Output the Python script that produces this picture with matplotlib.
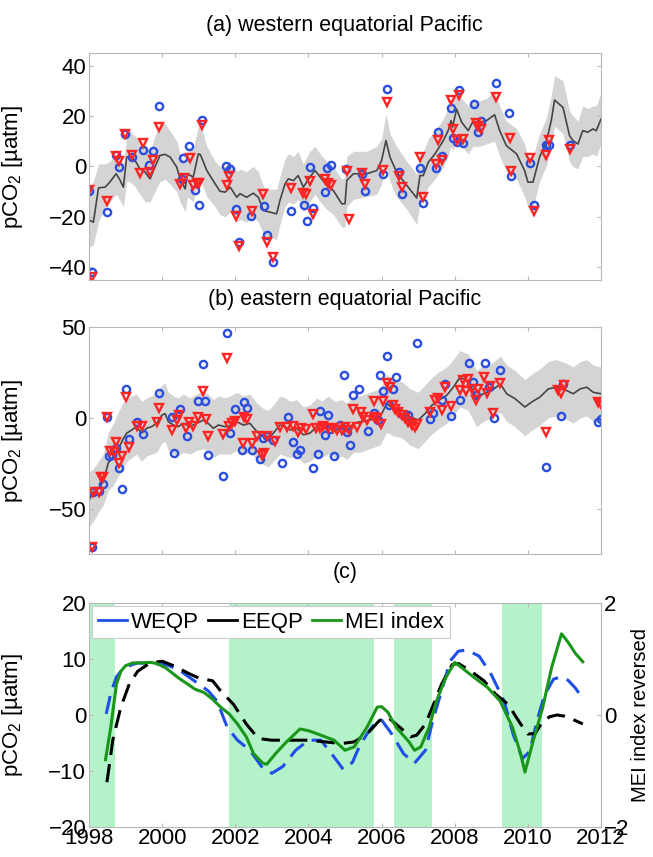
import matplotlib
matplotlib.use("Agg")
import matplotlib.pyplot as plt
from matplotlib.lines import Line2D
import numpy as np

plt.rcParams['font.family'] = ['Liberation Sans', 'DejaVu Sans']
plt.rcParams['mathtext.default'] = 'regular'

# ---------------- panel (a) western equatorial Pacific ----------------
a_blue_t = [1998.0, 1998.07, 1998.48, 1998.74, 1998.83, 1998.98, 1999.17, 1999.49, 1999.65, 1999.76,
            1999.91, 2000.53, 2000.56, 2000.74, 2000.9, 2001.0, 2001.1, 2001.74, 2001.86, 2002.01,
            2002.1, 2002.44, 2002.78, 2002.87, 2003.02, 2003.52, 2003.88, 2003.95, 2004.03, 2004.13,
            2004.45, 2004.51, 2004.62, 2005.03, 2005.46, 2005.55, 2006.05, 2006.14, 2006.47, 2006.55,
            2007.05, 2007.14, 2007.48, 2007.55, 2007.64, 2007.9, 2007.96, 2008.05, 2008.12, 2008.22,
            2008.54, 2008.64, 2008.72, 2009.13, 2009.48, 2009.55, 2010.07, 2010.16, 2010.49, 2010.58,
            2011.16]
a_blue_v = [-9.8, -42, -18.1, 4.4, -0.3, 12.7, 3.7, 6.4, 0.4, 6.1,
            23.8, -4.9, 3.3, 8.1, -9.3, -15.1, 18.5, 0.3, -0.9, -16.8,
            -30.1, -19.6, -15.5, -27.3, -38, -17.7, -15.1, -21.5, -0.3, -16.3,
            -10.2, -0.5, 0.7, -0.9, -2.9, -9.7, -2.9, 30.7, -2.2, -10.8,
            -0.5, -14.5, -0.5, 13.6, 4.3, 23.2, 11.3, 9.6, 30.3, 9.2,
            24.7, 13.6, 18.2, 32.9, 21.1, -3.9, 1.3, -15.3, 8.7, 8.7,
            8.7]
a_red_t = [1998.0, 1998.07, 1998.5, 1998.74, 1998.83, 1998.98, 1999.17, 1999.39, 1999.49, 1999.67,
           1999.76, 1999.91, 2000.49, 2000.6, 2000.76, 2000.85, 2000.94, 2001.0, 2001.1, 2001.77,
           2001.84, 2002.01, 2002.1, 2002.45, 2002.77, 2002.86, 2003.02, 2003.52, 2003.86, 2003.93,
           2004.03, 2004.12, 2004.44, 2004.54, 2004.61, 2005.05, 2005.12, 2005.46, 2005.55, 2006.05,
           2006.14, 2006.47, 2006.55, 2007.05, 2007.14, 2007.48, 2007.55, 2007.64, 2007.9, 2007.96,
           2008.05, 2008.12, 2008.22, 2008.59, 2008.64, 2008.72, 2009.13, 2009.5, 2009.55, 2010.07,
           2010.16, 2010.49, 2010.58, 2011.16]
a_red_v = [-9.3, -44, -13.8, 4.0, 2.1, 13, 4.6, -2.6, 9.3, -2.3,
           2.4, 15.6, -6.9, -4.5, 3.3, -7.2, -6.6, -6.6, 16.6, -7.2,
           -3.6, -19.7, -31.4, -17.5, -10.9, -30.1, -36, -8.5, -10.6, -10.9,
           -5.6, -18.8, -4.9, -6.6, -7.2, -1.6, -21, -2.7, -7.1, -1.3,
           25.4, -3.6, -8.2, 3.7, -12.1, 1.1, 10.3, 2.4, 26.4, 14.9,
           10.3, 28.3, 10.9, 17.1, 15.9, 14.9, 27.4, 11.3, -1.6, 3.4,
           -17.6, 4.7, 10.3, 7.0]
a_line_t = [1998.0, 1998.12, 1998.26, 1998.44, 1998.57, 1998.74, 1998.83, 1998.94, 1999.03, 1999.12,
            1999.26, 1999.39, 1999.53, 1999.67, 1999.8, 1999.94, 2000.08, 2000.22, 2000.4, 2000.49,
            2000.63, 2000.69, 2000.85, 2000.99, 2001.05, 2001.22, 2001.45, 2001.58, 2001.72, 2001.86,
            2002.04, 2002.13, 2002.31, 2002.49, 2002.63, 2002.77, 2002.95, 2003.13, 2003.22, 2003.36,
            2003.45, 2003.59, 2003.72, 2003.86, 2004.04, 2004.18, 2004.32, 2004.5, 2004.68, 2004.91,
            2005.0, 2005.05, 2005.23, 2005.59, 2005.87, 2006.0, 2006.12, 2006.23, 2006.41, 2006.69,
            2006.96, 2007.05, 2007.14, 2007.28, 2007.46, 2007.69, 2007.82, 2007.9, 2007.94, 2008.05,
            2008.19, 2008.37, 2008.5, 2008.68, 2008.87, 2009.09, 2009.23, 2009.41, 2009.69, 2009.91,
            2010.0, 2010.14, 2010.32, 2010.5, 2010.64, 2010.73, 2010.96, 2011.14, 2011.23, 2011.37,
            2011.5, 2011.64, 2011.78, 2011.87, 2012.0]
a_line_v = [-21.2, -22.1, -8.5, -8.2, -6.2, -2.9, -4.9, -8.2, 3.7, 4.0,
            2.4, -0.9, -2.2, -4.9, -0.3, 4.4, 4.8, 3.7, -0.3, -4.9,
            -8.9, -2.9, -4.2, 5.0, 4.6, -1.6, -6.9, -9.8, -10.2, -8.2,
            -12.2, -10.8, -12.2, -10.6, -12.2, -17.5, -18.1, -18.8, -13.5, -6.9,
            -4.9, -5.6, -3.6, -8.2, -4.2, -1.6, -4.2, -7.5, -9.5, -14.8,
            -14.8, -5.5, -2.9, -2.9, -1.6, 2.4, 10.3, 3.7, -2.2, -7.5,
            -12.5, -3.6, -3.6, 1.7, 5.0, 10.3, 14.2, 18.2, 15.5, 22.8,
            17.5, 14.2, 17.9, 17.5, 18.2, 20.5, 14.2, 8.3, 5.0, -1.6,
            -6.2, -6.2, 3.7, 9.6, 18.2, 26.3, 23.4, 12.2, 10.3, 8.9,
            14.2, 13.6, 14.9, 14.2, 18.8]
a_low = [-32, -31, -22, -16, -14, -11, -13, -16, -6, -6,
         -8, -11, -14, -14, -10, -6, -5, -7, -10, -14,
         -18, -12, -14, -5, -5, -12, -16, -19, -20, -18,
         -22, -21, -22, -20, -22, -27, -28, -29, -23, -16,
         -14, -15, -13, -18, -14, -11, -14, -17, -19, -24,
         -24, -16, -13, -12, -11, -7, 0, -6, -12, -17,
         -23, -14, -13, -8, -5, 0, 4, 8, 6, 12,
         8, 5, 8, 8, 9, 10, 4, -2, -5, -12,
         -16, -16, -6, 0, 8, 16, 13, 2, 0, -1,
         4, 4, 5, 4, 9]
a_up = [-8, -6, 1, 1, 2, 5, 4, 1, 12, 14,
        12, 9, 8, 6, 12, 17, 17, 14, 10, 5,
        1, 6, 7, 16, 17, 8, 2, 0, 0, 2,
        -2, -1, -2, 0, -2, -8, -9, -9, -4, 3,
        5, 4, 6, 1, 6, 8, 5, 2, 0, -5,
        -4, 4, 6, 6, 8, 11, 21, 13, 8, 2,
        -3, 6, 6, 11, 14, 19, 23, 27, 25, 32,
        27, 24, 27, 26, 27, 30, 24, 18, 15, 9,
        4, 4, 13, 19, 28, 36, 34, 22, 20, 18,
        24, 23, 24, 24, 29]

# ---------------- panel (b) eastern equatorial Pacific ----------------
b_blue_t = [1998.07, 1998.12, 1998.26, 1998.39, 1998.48, 1998.56, 1998.62, 1998.74, 1998.83, 1998.89,
            1999.01, 1999.08, 1999.32, 1999.49, 1999.92, 2000.26, 2000.33, 2000.5, 2000.67, 2000.99,
            2001.11, 2001.17, 2001.26, 2001.67, 2001.76, 2001.86, 2001.99, 2002.18, 2002.24, 2002.31,
            2002.45, 2002.68, 2002.77, 2002.86, 2003.04, 2003.27, 2003.45, 2003.59, 2003.7, 2003.77,
            2004.12, 2004.27, 2004.32, 2004.45, 2004.54, 2004.6, 2004.7, 2004.85, 2004.96, 2005.05,
            2005.14, 2005.21, 2005.37, 2005.64, 2005.78, 2005.9, 2005.96, 2006.05, 2006.14, 2006.21,
            2006.3, 2006.39, 2006.55, 2006.73, 2006.98, 2007.32, 2007.41, 2007.64, 2007.73, 2007.89,
            2008.14, 2008.4, 2008.49, 2008.58, 2008.82, 2008.94, 2009.07, 2009.25, 2010.5, 2010.91,
            2010.97, 2011.91, 2012.0]
b_blue_v = [-71.2, -40.9, -40.5, -36.4, 0.5, -21.1, -20.7, -16.6, -27.4, -39.1,
            15.8, -11.7, -2.2, -8.8, 13.5, 0.5, -19.3, 5.0, -9.9, 9.0,
            29.7, 9.0, -20.7, -31.9, 46.5, -8.5, 4.9, -17.5, 8.6, 5.6,
            -17.5, -22.5, -11.2, -9.9, -12.4, -25, 0.5, -13.5, -20.2, -17.5,
            -27.7, -20.2, 3.6, -9.4, 1.4, -6, -21.1, -4, 23.6, -8,
            -15.1, 12.8, 15.9, -7.2, 2.7, -1, 23.6, 15, 33.9, 6.8,
            15.9, 22.2, 2.3, 1.4, 41.4, -0.9, 2.7, 9.5, 18.6, 0.9,
            9.9, 30.3, 19.5, 12.3, 30.3, 16.8, -0.4, 26.1, -27, 0.9,
            18.6, -2.2, -0.9]
b_red_t = [1998.07, 1998.12, 1998.26, 1998.32, 1998.39, 1998.48, 1998.57, 1998.67, 1998.74, 1998.83,
           1998.89, 1999.01, 1999.08, 1999.32, 1999.44, 1999.85, 1999.92, 2000.26, 2000.4, 2000.47,
           2000.65, 2000.74, 2000.83, 2000.99, 2001.11, 2001.2, 2001.26, 2001.67, 2001.76, 2001.83,
           2001.92, 2001.99, 2002.2, 2002.24, 2002.33, 2002.45, 2002.59, 2002.73, 2002.79, 2002.88,
           2003.09, 2003.21, 2003.41, 2003.59, 2003.72, 2003.8, 2003.92, 2004.12, 2004.21, 2004.32,
           2004.41, 2004.54, 2004.68, 2004.77, 2004.91, 2005.0, 2005.1, 2005.21, 2005.32, 2005.45,
           2005.5, 2005.6, 2005.78, 2005.8, 2005.87, 2005.98, 2006.05, 2006.14, 2006.23, 2006.32,
           2006.37, 2006.46, 2006.55, 2006.64, 2006.73, 2006.82, 2006.91, 2006.97, 2007.32, 2007.46,
           2007.55, 2007.64, 2007.73, 2007.91, 2008.14, 2008.23, 2008.32, 2008.37, 2008.46, 2008.58,
           2008.64, 2008.8, 2008.88, 2008.97, 2009.06, 2009.23, 2010.49, 2010.82, 2010.91, 2011.0,
           2011.91, 2012.0]
b_red_v = [-71, -40.9, -40.9, -32.8, -32.8, 0.5, -18.4, -18.9, -13.5, -24.7,
           -21.1, 11.7, -16.2, -4.5, -4.5, -2.2, 5.6, -6.7, -1.3, 1.4,
           -5.8, -2.2, -4.5, 0.5, 14.9, -0.9, -9.9, -8.8, 33, -4.5,
           -3.1, -1.6, -13.9, 0.5, -0.9, -13.9, -10.3, -20.7, -19.3, -10.3,
           -13, -5.2, -5.2, -4.5, -7.6, -5.8, -6.3, 2.0, -5.8, -5.8,
           -4.5, -5.8, -5.8, -6.7, -6.7, -5, -6.7, 5, -4.9, 3.2,
           0.5, -1.3, 0.5, 9, -0.4, -3.6, 9, 18.9, 16.8, 6.8,
           5, 3.2, 1.4, -0.4, -2.2, -4, -4.9, -3.4, 3.2, 9.5,
           11, 4.5, 17.1, 6.3, 15.3, 20.7, 15, 21.3, 15.9, 9.5,
           15.9, 22.5, 13.5, 17.7, 2.7, 18.9, -7.6, 15.3, 13.5, 18,
           8.6, 7.4]
b_line_t = [1998.0, 1998.12, 1998.26, 1998.39, 1998.53, 1998.67, 1998.8, 1998.92, 1999.03, 1999.17,
            1999.3, 1999.44, 1999.58, 1999.71, 1999.85, 1999.99, 2000.08, 2000.17, 2000.31, 2000.44,
            2000.58, 2000.76, 2000.94, 2001.13, 2001.26, 2001.4, 2001.54, 2001.72, 2001.86, 2002.04,
            2002.22, 2002.4, 2002.59, 2002.77, 2002.9, 2003.04, 2003.22, 2003.36, 2003.5, 2003.68,
            2003.86, 2004.04, 2004.23, 2004.36, 2004.54, 2004.73, 2004.91, 2005.05, 2005.23, 2005.41,
            2005.68, 2005.96, 2006.14, 2006.32, 2006.55, 2006.78, 2007.0, 2007.19, 2007.37, 2007.55,
            2007.78, 2007.96, 2008.14, 2008.37, 2008.6, 2008.78, 2009.01, 2009.25, 2009.42, 2009.65,
            2009.92, 2010.1, 2010.33, 2010.56, 2010.78, 2011.06, 2011.24, 2011.43, 2011.61, 2011.79,
            2012.0]
b_line_v = [-45.4, -40.9, -39, -35, -24.7, -22, -17.5, -12.1, -8.5, -6.7,
            -4.9, -8.5, -5.8, -4.9, -3.1, 1.4, 2.3, -2.2, -4, -4.9,
            -3.1, -4.9, -3.1, -1.3, -3.1, -5.8, -4, -4.9, -4.5, -2.2,
            -4, -3.1, -7.6, -10.3, -11.2, -8.5, -4, -4.9, -6.7, -5.8,
            -9.4, -8.5, -4.9, -6.7, -4, -6.7, -5.8, -7.6, -3.1, -2.2,
            -1.3, 0.5, 7.7, 5, 4.1, 0.5, -1.3, 2.3, 6.8, 9.5,
            12.3, 16.8, 22.2, 20.4, 10.5, 13.2, 15, 18.6, 13.2, 10.5,
            5.9, 8.6, 11.4, 15.9, 16.8, 15, 13.2, 15.9, 16.8, 14,
            13.2]
b_low = [-60, -57, -52, -48, -40, -37, -32, -28, -24, -22,
         -20, -24, -21, -20, -19, -14, -13, -18, -20, -21,
         -19, -20, -18, -17, -19, -22, -20, -20, -20, -18,
         -20, -19, -23, -26, -27, -24, -20, -21, -22, -21,
         -25, -24, -21, -22, -20, -22, -21, -23, -19, -19,
         -17, -15, -8, -10, -11, -15, -17, -13, -9, -6,
         -3, 1, 6, 4, -5, -2, 0, 3, -2, -5,
         -10, -7, -4, 0, 1, -1, -3, 0, 1, -2,
         -3]
b_up = [-30, -28, -24, -20, -8, -3, 3, 8, 10, 12,
        13, 9, 11, 12, 14, 18, 19, 14, 12, 11,
        13, 11, 13, 15, 13, 10, 12, 11, 12, 14,
        12, 13, 8, 5, 4, 7, 12, 11, 9, 10,
        6, 7, 11, 9, 12, 9, 10, 8, 12, 12,
        14, 16, 24, 21, 20, 16, 14, 18, 22, 25,
        28, 32, 37, 35, 26, 29, 30, 34, 29, 26,
        21, 24, 27, 31, 32, 30, 28, 31, 32, 29,
        28]

# ---------------- panel (c) ----------------
weqp_t = [1998.47, 1998.6, 1998.75, 1998.87, 1999.1, 1999.33, 1999.67, 2000.1, 2000.45, 2000.9,
          2001.26, 2001.5, 2001.78, 2002.06, 2002.4, 2002.75, 2003.0, 2003.3, 2003.65, 2004.0,
          2004.34, 2004.7, 2004.95, 2005.2, 2005.4, 2005.6, 2005.8, 2006.0, 2006.28, 2006.6,
          2006.9, 2007.2, 2007.4, 2007.64, 2007.87, 2008.1, 2008.33, 2008.67, 2009.0, 2009.35,
          2009.6, 2009.85, 2010.05, 2010.25, 2010.45, 2010.7, 2010.9, 2011.1, 2011.3, 2011.45]
weqp_v = [0.2, 4.0, 6.8, 7.8, 8.8, 9.3, 9.2, 9.0, 8.1, 6.0,
          4.3, 2.5, -2.2, -4.5, -6.3, -9.5, -10.4, -9.2, -6.3, -4.5,
          -4.5, -7.5, -9.7, -8.5, -5.5, -3.4, -1.6, -0.9, -3.4, -6.9,
          -8.6, -6.3, -1.0, 4.3, 9.6, 11.4, 11.6, 10.5, 7.2, 2.5,
          -3.5, -7.8, -6.5, -1.0, 3.5, 6.4, 6.8, 6.2, 4.8, 3.4]
eeqp_t = [1998.49, 1998.65, 1998.87, 1999.1, 1999.33, 1999.67, 2000.0, 2000.35, 2000.7, 2001.0,
          2001.38, 2001.6, 2001.95, 2002.3, 2002.63, 2003.0, 2003.55, 2004.0, 2004.45, 2004.9,
          2005.25, 2005.6, 2005.94, 2006.17, 2006.5, 2006.8, 2006.96, 2007.2, 2007.42, 2007.64,
          2007.93, 2008.1, 2008.45, 2008.8, 2009.12, 2009.46, 2009.8, 2010.0, 2010.2, 2010.4,
          2010.6, 2010.8, 2011.0, 2011.2, 2011.5]
eeqp_v = [-12.0, -4.5, 1.4, 5.5, 7.8, 9.3, 9.6, 8.7, 7.5, 6.6,
          6.1, 4.3, 1.9, -1.6, -4.2, -4.5, -4.5, -4.5, -4.8, -5.1,
          -4.8, -3.4, -1.0, -0.4, -2.2, -3.9, -3.6, -1.6, 1.9, 5.5,
          9.0, 9.2, 7.8, 6.1, 3.7, 1.9, -1.6, -3.4, -3.3, -1.2,
          -0.3, 0.0, -0.2, -0.7, -1.6]
mei_t = [1998.45, 1998.6, 1998.75, 1998.87, 1999.0, 1999.2, 1999.45, 1999.67, 1999.85, 2000.1,
         2000.45, 2000.7, 2000.9, 2001.15, 2001.38, 2001.6, 2001.83, 2002.06, 2002.3, 2002.5,
         2002.75, 2002.86, 2003.1, 2003.4, 2003.77, 2004.0, 2004.34, 2004.7, 2005.0, 2005.25,
         2005.6, 2005.88, 2006.0, 2006.17, 2006.4, 2006.75, 2006.9, 2007.07, 2007.3, 2007.5,
         2007.75, 2008.0, 2008.2, 2008.55, 2008.9, 2009.24, 2009.58, 2009.8, 2009.92, 2010.15,
         2010.4, 2010.65, 2010.92, 2011.1, 2011.3, 2011.5]
mei_rev = [-0.80, -0.20, 0.55, 0.78, 0.88, 0.93, 0.93, 0.94, 0.92, 0.84,
           0.66, 0.55, 0.46, 0.40, 0.28, 0.14, 0.02, -0.16, -0.39, -0.69,
           -0.86, -0.88, -0.69, -0.48, -0.25, -0.28, -0.36, -0.45, -0.63, -0.57,
           -0.22, 0.14, 0.15, 0.05, -0.22, -0.48, -0.63, -0.57, -0.22, 0.25,
           0.66, 0.94, 0.84, 0.66, 0.49, 0.25, -0.22, -0.69, -1.02, -0.45,
           0.12, 0.85, 1.45, 1.30, 1.10, 0.95]
green_spans = [(1998.0, 1998.7), (2001.82, 2005.8), (2006.33, 2007.39), (2009.3, 2010.38)]

xticks = list(range(1998, 2013, 2))
spine_c = '#b8b8b8'
blue = '#2a4fe0'
red = '#ff2424'
fs = 16


def style(ax):
    for s in ax.spines.values():
        s.set_color(spine_c)
        s.set_linewidth(0.8)
    ax.tick_params(direction='in', length=3, color=spine_c, labelsize=fs,
                   top=True, right=True, pad=2)
    ax.set_xlim(1998, 2012)
    ax.set_xticks(xticks)


fig = plt.figure(figsize=(6.53, 8.57), dpi=100)

# panel a
ax1 = fig.add_axes([0.1363, 0.6733, 0.7841, 0.2649])
ax1.fill_between(a_line_t, a_low, a_up, color='#d4d4d4', lw=0)
ax1.plot(a_line_t, a_line_v, color='#454545', lw=1.2)
ax1.plot(a_blue_t, a_blue_v, 'o', ms=5.2, mfc='none', mec=blue, mew=1.7)
ax1.plot(a_red_t, a_red_v, 'v', ms=5.7, mfc='none', mec=red, mew=1.7)
style(ax1)
ax1.set_ylim(-45, 45)
ax1.set_yticks([-40, -20, 0, 20, 40])
ax1.set_xticklabels([])
ax1.set_ylabel('pCO$_2$ [µatm]', fontsize=fs)
ax1.yaxis.set_label_coords(-0.125, 0.5)
fig.text(0.528, 0.9708, '(a) western equatorial Pacific', ha='center', va='center', fontsize=15.5)

# panel b
ax2 = fig.add_axes([0.1363, 0.3536, 0.7841, 0.2649])
ax2.fill_between(b_line_t, b_low, b_up, color='#d4d4d4', lw=0)
ax2.plot(b_line_t, b_line_v, color='#454545', lw=1.2)
ax2.plot(b_blue_t, b_blue_v, 'o', ms=5.2, mfc='none', mec=blue, mew=1.7)
ax2.plot(b_red_t, b_red_v, 'v', ms=5.7, mfc='none', mec=red, mew=1.7)
style(ax2)
ax2.set_ylim(-75, 50)
ax2.set_yticks([-50, 0, 50])
ax2.set_xticklabels([])
ax2.set_ylabel('pCO$_2$ [µatm]', fontsize=fs)
ax2.yaxis.set_label_coords(-0.125, 0.5)
fig.text(0.528, 0.650, '(b) eastern equatorial Pacific', ha='center', va='center', fontsize=15.5)

# panel c: shaded periods and pCO2 curves on the left axis, MEI on the right axis
ax3 = fig.add_axes([0.1363, 0.035, 0.7841, 0.2614])
for x0, x1 in green_spans:
    ax3.axvspan(x0, x1, color='#b4f3c9', lw=0)
ax3.plot(weqp_t, weqp_v, color='#1f4fe8', lw=2.2, dashes=(6, 3))
ax3.plot(eeqp_t, eeqp_v, color='black', lw=2.2, dashes=(6, 3))
style(ax3)
ax3.tick_params(right=False)
ax3.set_ylim(-20, 20)
ax3.set_yticks([-20, -10, 0, 10, 20])
ax3.set_ylabel('pCO$_2$ [µatm]', fontsize=fs)
ax3.yaxis.set_label_coords(-0.125, 0.5)
ax3.tick_params(axis='x', pad=1)
fig.text(0.528, 0.3314, '(c)', ha='center', va='center', fontsize=15.5)

ax4 = ax3.twinx()
ax4.plot(mei_t, mei_rev, color='#1a961a', lw=2.2)
ax4.set_ylim(-2, 2)
ax4.set_yticks([-2, 0, 2])
for s in ax4.spines.values():
    s.set_visible(False)
ax4.tick_params(direction='in', length=3, color=spine_c, labelsize=fs, pad=2)
ax4.set_ylabel('MEI index reversed', fontsize=14.5)
ax4.yaxis.set_label_coords(1.058, 0.5)

handles = [Line2D([], [], color='#1f4fe8', lw=2),
           Line2D([], [], color='black', lw=2),
           Line2D([], [], color='#1a961a', lw=2)]
leg = ax4.legend(handles, ['WEQP', 'EEQP', 'MEI index'], ncol=3, loc='upper left',
                 bbox_to_anchor=(0.006, 0.985), borderaxespad=0, fontsize=fs,
                 handlelength=1.3, handletextpad=0.2, columnspacing=0.4,
                 borderpad=0.25, fancybox=False, framealpha=1, edgecolor='#cccccc')
leg.get_frame().set_linewidth(0.8)

fig.savefig('out.png', dpi=100)
